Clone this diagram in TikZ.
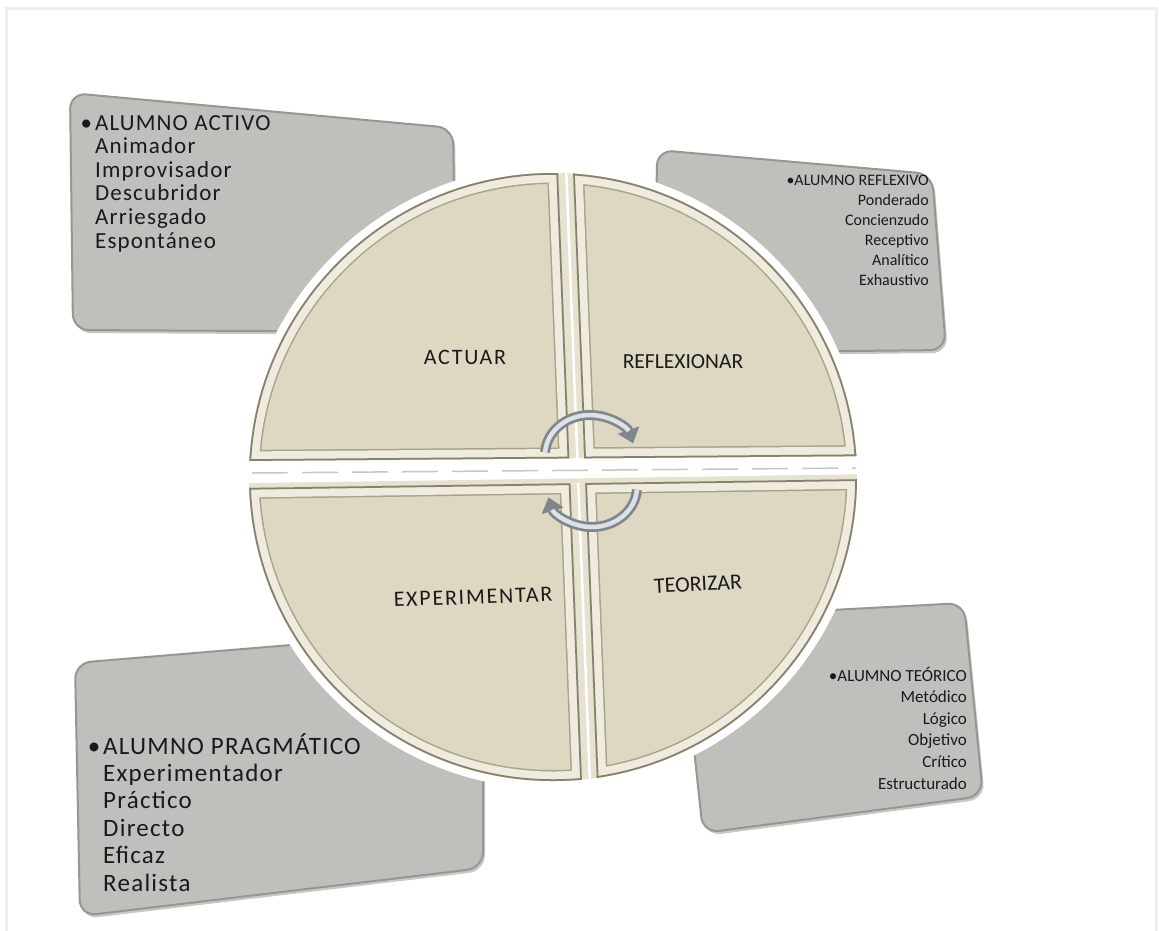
\documentclass[tikz,border=0pt]{standalone}
\usepackage{fontspec}
\setmainfont{Carlito}
\newfontfamily\widesp[LetterSpace=8]{Carlito}
\newfontfamily\medsp[LetterSpace=5]{Carlito}
\usetikzlibrary{arrows.meta}
\definecolor{boxfill}{HTML}{BEC0BB}
\definecolor{boxedge}{HTML}{96988F}
\definecolor{facecol}{HTML}{DED8C3}
\definecolor{rimcol}{HTML}{EFEBDE}
\definecolor{innerline}{HTML}{A9A38B}
\definecolor{outlinecol}{HTML}{86816B}
\definecolor{gapcol}{HTML}{E7E2D0}
\definecolor{framecol}{HTML}{EEEEEE}
\definecolor{arrowdark}{HTML}{7F868D}
\definecolor{arrowlight}{HTML}{DDE2E6}
\definecolor{txt}{HTML}{1A1A1A}
\tikzset{
  infobox/.style={fill=boxfill, draw=boxedge, line width=2pt, rounded corners=16pt},
  boxshadow/.style={fill=black, opacity=0.22, rounded corners=16pt},
  listtxt/.style={text=txt, inner sep=0pt},
  qlabel/.style={text=txt, inner sep=0pt},
  arrowbody/.style={draw=arrowdark, line width=10pt, -{Triangle[length=14pt,width=22pt]}},
  arrowshine/.style={draw=arrowlight, line width=4.5pt, shorten >=13pt}
}
\newcommand{\qpiece}[1]{%
  \begin{scope}
    \clip (553,-477) circle (304);
    \clip #1;
    \fill[facecol] (553,-477) circle (304);
    \draw[innerline, line width=22pt] #1;
    \draw[innerline, line width=22pt] (553,-477) circle (304);
    \draw[rimcol, line width=19pt] #1;
    \draw[rimcol, line width=19pt] (553,-477) circle (304);
    \draw[outlinecol, line width=3.5pt] #1;
    \draw[outlinecol, line width=3.5pt] (553,-477) circle (304);
  \end{scope}}
\begin{document}
\begin{tikzpicture}[x=1pt,y=1pt]
\useasboundingbox (0,0) rectangle (1159,-930);
\fill[white] (0,0) rectangle (1159,-930);
\draw[framecol, line width=3pt] (6,-8) rectangle (1156,-950);

% ---- boxes (behind the disc)
\fill[boxshadow] (72,-96) -- (455,-131) -- (458,-335) -- (75,-333) -- cycle;
\draw[infobox] (70,-93) -- (453,-128) -- (456,-332) -- (73,-330) -- cycle;
\fill[boxshadow] (659,-153) -- (934,-177) -- (948,-353) -- (657,-356) -- cycle;
\draw[infobox] (657,-150) -- (932,-174) -- (946,-350) -- (655,-353) -- cycle;
\fill[boxshadow] (77,-666) -- (485,-632) -- (485,-871) -- (82,-919) -- cycle;
\draw[infobox] (75,-663) -- (483,-629) -- (483,-868) -- (80,-916) -- cycle;
\fill[boxshadow] (682,-621) -- (966,-606) -- (985,-799) -- (705,-836) -- cycle;
\draw[infobox] (680,-618) -- (964,-603) -- (983,-796) -- (703,-833) -- cycle;

% ---- box texts
\node[listtxt, anchor=base west, font=\medsp\fontsize{23}{23.6}\selectfont] (activo) at (95,-130)
  {\begin{tabular}[t]{@{}l@{}}\llap{•\hspace{3pt}}ALUMNO ACTIVO\\Animador\\Improvisador\\Descubridor\\Arriesgado\\Espontáneo\end{tabular}};

\node[listtxt, anchor=base east, font=\fontsize{16}{20}\selectfont] (reflexivo) at (929,-185)
  {\begin{tabular}[t]{@{}r@{}}•ALUMNO REFLEXIVO\\Ponderado\\Concienzudo\\Receptivo\\Analítico\\Exhaustivo\end{tabular}};

\node[listtxt, anchor=base west, font=\medsp\fontsize{25}{27.4}\selectfont] (pragmatico) at (103,-754)
  {\begin{tabular}[t]{@{}l@{}}\llap{•\hspace{3pt}}ALUMNO PRAGMÁTICO\\Experimentador\\Práctico\\Directo\\Eficaz\\Realista\end{tabular}};

\node[listtxt, anchor=base east, font=\fontsize{17}{21.6}\selectfont] (teorico) at (967,-681)
  {\begin{tabular}[t]{@{}r@{}}•ALUMNO TEÓRICO\\Metódico\\Lógico\\Objetivo\\Crítico\\Estructurado\end{tabular}};

% ---- disc
\fill[white] (553,-477) circle (312);
\begin{scope}
  \clip (553,-477) circle (304);
  \fill[gapcol] (555.2,-100) -- (570.2,-100) -- (599.6,-850) -- (584.6,-850) -- cycle;
  \draw[white, line width=2.5pt] (563.5,-100) -- (592.5,-850);
  \fill[white] (150,-461.7) -- (950,-455.4) -- (950,-477.9) -- (150,-489.3) -- cycle;
  \fill[gapcol] (150,-489.3) -- (950,-477.9) -- (950,-473) -- (150,-484.5) -- cycle;
  \draw[black!22, line width=1.5pt, dash pattern=on 36pt off 14pt] (252,-473) -- (856,-468);
\end{scope}

\qpiece{(150,-100) -- (555.2,-100) -- (569.3,-458.4) -- (150,-461.7) -- cycle}
\qpiece{(570.2,-100) -- (950,-100) -- (950,-455.4) -- (584.2,-458.3) -- cycle}
\qpiece{(150,-489.3) -- (570.4,-483.3) -- (584.6,-850) -- (150,-850) -- cycle}
\qpiece{(585.2,-483.1) -- (950,-477.9) -- (950,-850) -- (599.6,-850) -- cycle}

\node[qlabel, font=\widesp\fontsize{22}{24}\selectfont] (actuar) at (465,-357) {ACTUAR};
\node[qlabel, font=\fontsize{21.5}{24}\selectfont] (reflex) at (683,-362) {REFLEXIONAR};
\node[qlabel, rotate=2, font=\widesp\fontsize{22}{24}\selectfont] (exper) at (473,-597) {EXPERIMENTAR};
\node[qlabel, rotate=3, font=\fontsize{22}{24}\selectfont] (teor) at (698,-584) {TEORIZAR};

% ---- cycle arrows
\draw[arrowbody] (545.1,-452.2) arc[start angle=176, end angle=17, x radius=45, y radius=40];
\draw[arrowshine] (545.1,-452.2) arc[start angle=176, end angle=17, x radius=45, y radius=40];
\draw[arrowbody] (636.9,-489.8) arc[start angle=-4, end angle=-165, x radius=45, y radius=40];
\draw[arrowshine] (636.9,-489.8) arc[start angle=-4, end angle=-165, x radius=45, y radius=40];
\end{tikzpicture}
\end{document}
